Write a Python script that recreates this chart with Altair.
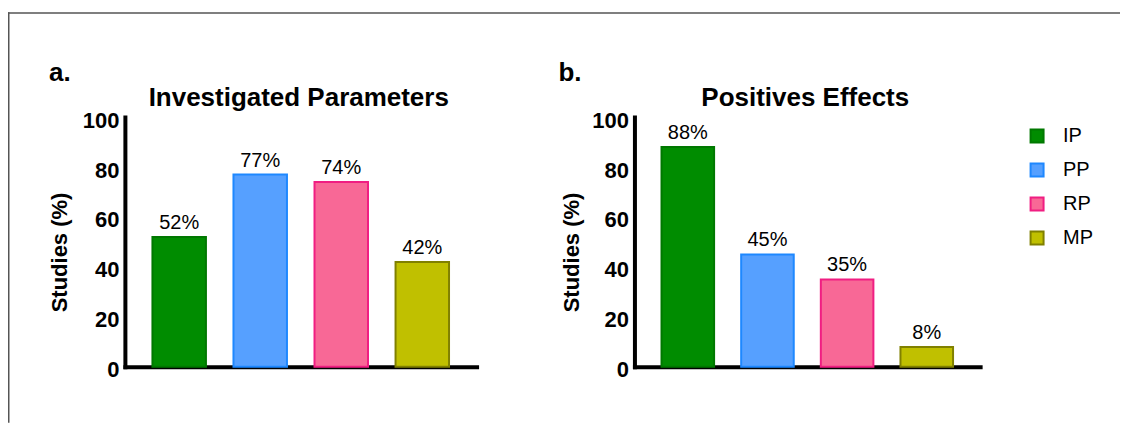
import altair as alt
import pandas as pd

categories = ["IP", "PP", "RP", "MP"]
investigated = [52, 77, 74, 42]
positive = [88, 45, 35, 8]
fill_colors = ["#008C00", "#56A0FF", "#F86896", "#C0C000"]
stroke_colors = ["#007800", "#1E88FF", "#F01E82", "#808000"]
titles = ["Investigated Parameters", "Positives Effects"]
panel_tags = ["a.", "b."]
y_title = "Studies (%)"
y_ticks = [0, 20, 40, 60, 80, 100]
frame_color = "#555555"

FONT = "Liberation Sans"


def panel(values, title, tag, width, show_legend, frame, title_x):
    df = pd.DataFrame({"cat": categories, "val": values,
                       "lab": [f"{v}%" for v in values]})
    base = alt.Chart(df)
    x = alt.X("cat:N", sort=categories,
              scale=alt.Scale(paddingInner=0.34, paddingOuter=0.34),
              axis=alt.Axis(labels=False, ticks=False, title=None,
                            domainWidth=4, domainColor="black", domainCap="square"))
    y = alt.Y("val:Q", scale=alt.Scale(domain=[0, 100], nice=False),
              axis=alt.Axis(values=y_ticks, ticks=False, tickSize=0, grid=False,
                            labelPadding=6, labelFontSize=22, labelFontWeight="bold",
                            labelColor="black", labelFont=FONT, labelOffset=3,
                            domainWidth=4, domainColor="black", domainCap="square",
                            title=y_title, titleFontSize=22, titleFontWeight="bold",
                            titleColor="black", titleFont=FONT,
                            titleX=title_x, titleY=135))
    if show_legend:
        leg = alt.Legend(title=None, orient="none", legendX=393, legendY=9,
                         symbolType="square", symbolSize=169, symbolStrokeWidth=2,
                         labelFontSize=20, labelFont=FONT, labelColor="black",
                         rowPadding=12, labelOffset=16, padding=0)
    else:
        leg = None
    bars = base.mark_bar(strokeWidth=2).encode(
        x=x, y=y,
        fill=alt.Fill("cat:N", sort=categories,
                      scale=alt.Scale(domain=categories, range=fill_colors), legend=leg),
        stroke=alt.Stroke("cat:N", sort=categories,
                          scale=alt.Scale(domain=categories, range=stroke_colors), legend=leg),
    )
    labels = base.mark_text(dy=-8, baseline="alphabetic", fontSize=20, font=FONT,
                            color="black").encode(
        x=alt.X("cat:N", sort=categories), y=alt.Y("val:Q"), text="lab:N")
    tag_text = alt.Chart(pd.DataFrame({"t": [tag]})).mark_text(
        align="left", baseline="alphabetic", fontSize=26, fontWeight="bold",
        font=FONT, color="black").encode(
        x=alt.value(-76), y=alt.value(-36), text="t:N")
    title_text = alt.Chart(pd.DataFrame({"t": [title]})).mark_text(
        align="center", baseline="alphabetic", fontSize=26, fontWeight="bold",
        font=FONT, color="black").encode(
        x=alt.value(width / 2 - 2), y=alt.value(-11), text="t:N")
    layers = [bars, labels, tag_text, title_text]
    if frame:
        fd = pd.DataFrame({"d": [0]})
        top = alt.Chart(fd).mark_rect(color=frame_color, strokeWidth=0).encode(
            x=alt.value(-117), x2=alt.value(996), y=alt.value(-105), y2=alt.value(-103.5))
        left = alt.Chart(fd).mark_rect(color=frame_color, strokeWidth=0).encode(
            x=alt.value(-117), x2=alt.value(-115.5), y=alt.value(-105), y2=alt.value(306))
        layers += [top, left]
    return alt.layer(*layers).properties(width=width, height=250)


pa = panel(investigated, titles[0], panel_tags[0], 352, False, True, -53)
pb = panel(positive, titles[1], panel_tags[1], 346, True, False, -51)

chart = alt.hconcat(pa, pb, spacing=158, bounds="flush").resolve_scale(
    x="independent", y="independent", fill="independent", stroke="independent"
).resolve_legend(fill="independent", stroke="independent").properties(
    padding={"left": 0, "top": 4, "right": 0, "bottom": 0},
    background="white",
).configure(font=FONT).configure_view(stroke=None)

chart.save("out.html", embed_options={"renderer": "svg", "actions": False})
